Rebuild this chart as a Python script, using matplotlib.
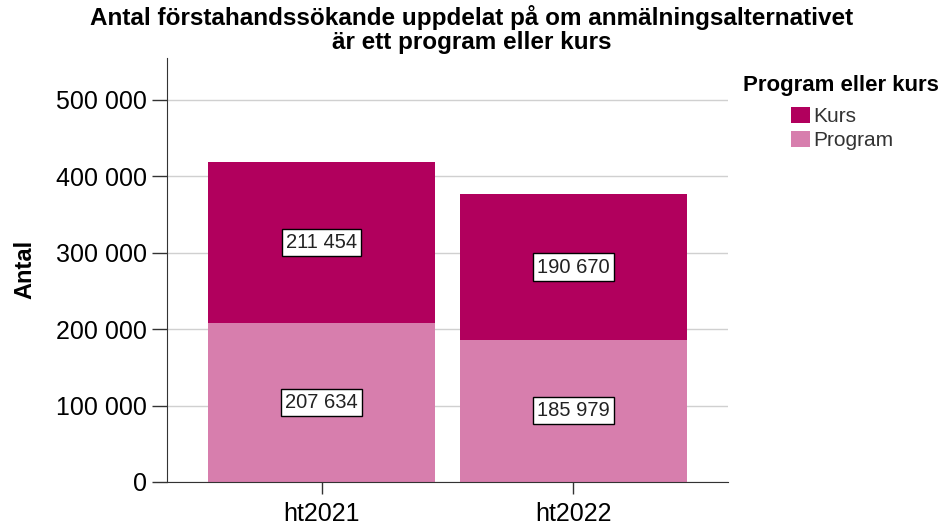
import numpy as np
import matplotlib
matplotlib.use('Agg')
import matplotlib.pyplot as plt
from matplotlib.ticker import FuncFormatter

plt.rcParams['font.family'] = ['Liberation Sans', 'DejaVu Sans']

terms = ['ht2021', 'ht2022']
program = [207634, 185979]
kurs = [211454, 190670]
series_names = ['Kurs', 'Program']

col_kurs = '#B1005D'
col_program = '#D77EAD'

fig = plt.figure(figsize=(9.44, 5.26), dpi=100)
ax = fig.add_axes([0.177, 0.0837, 0.594, 0.8063])

x = np.arange(len(terms))
b_prog = ax.bar(x, program, width=0.9, color=col_program, zorder=2)
b_kurs = ax.bar(x, kurs, width=0.9, bottom=program, color=col_kurs, zorder=2)

def fmt(v):
    return '{:,}'.format(int(v)).replace(',', ' ')

box = dict(boxstyle='square,pad=0.2', fc='white', ec='black', lw=1)
for i in range(len(terms)):
    ax.text(x[i], program[i] / 2, fmt(program[i]), ha='center', va='center',
            fontsize=14.5, color='#222222', bbox=box, zorder=3)
    ax.text(x[i], program[i] + kurs[i] / 2, fmt(kurs[i]), ha='center', va='center',
            fontsize=14.5, color='#222222', bbox=box, zorder=3)

ax.set_xlim(-0.613, 1.613)
ax.set_ylim(0, 555000)
ax.set_yticks(np.arange(0, 500001, 100000))
ax.yaxis.set_major_formatter(FuncFormatter(lambda v, p: fmt(v)))
ax.set_xticks(x)
ax.set_xticklabels(terms)
ax.tick_params(axis='both', labelsize=18, width=1, color='#333333')
ax.tick_params(axis='y', length=10.8, pad=4)
ax.tick_params(axis='x', length=8.6, pad=6)
ax.grid(axis='y', color='#D0D0D0', lw=1, zorder=0)
ax.set_axisbelow(True)

for s in ['top', 'right']:
    ax.spines[s].set_visible(False)
for s in ['left', 'bottom']:
    ax.spines[s].set_color('#333333')

ax.set_ylabel('Antal', fontsize=17, fontweight='bold', labelpad=14)
fig.text(0.5, 0.99, 'Antal förstahandssökande uppdelat på om anmälningsalternativet\när ett program eller kurs',
         ha='center', va='top', fontsize=17.5, fontweight='bold', linespacing=1.02)

# legend title placed separately so the gap to the entries matches
fig.text(840.5 / 944, 1 - 91 / 526, 'Program eller kurs', ha='center', va='baseline',
         fontsize=16, fontweight='bold')
leg = ax.legend([b_kurs, b_prog], series_names, loc='upper left',
                bbox_to_anchor=(791 / 944, 1 - 107 / 526), bbox_transform=fig.transFigure,
                frameon=False, fontsize=15,
                handlelength=0.9, handleheight=0.77, handletextpad=0.15,
                labelspacing=0.25, borderaxespad=0, borderpad=0)
for t in leg.get_texts():
    t.set_color('#333333')

fig.savefig('out.png', dpi=100)
